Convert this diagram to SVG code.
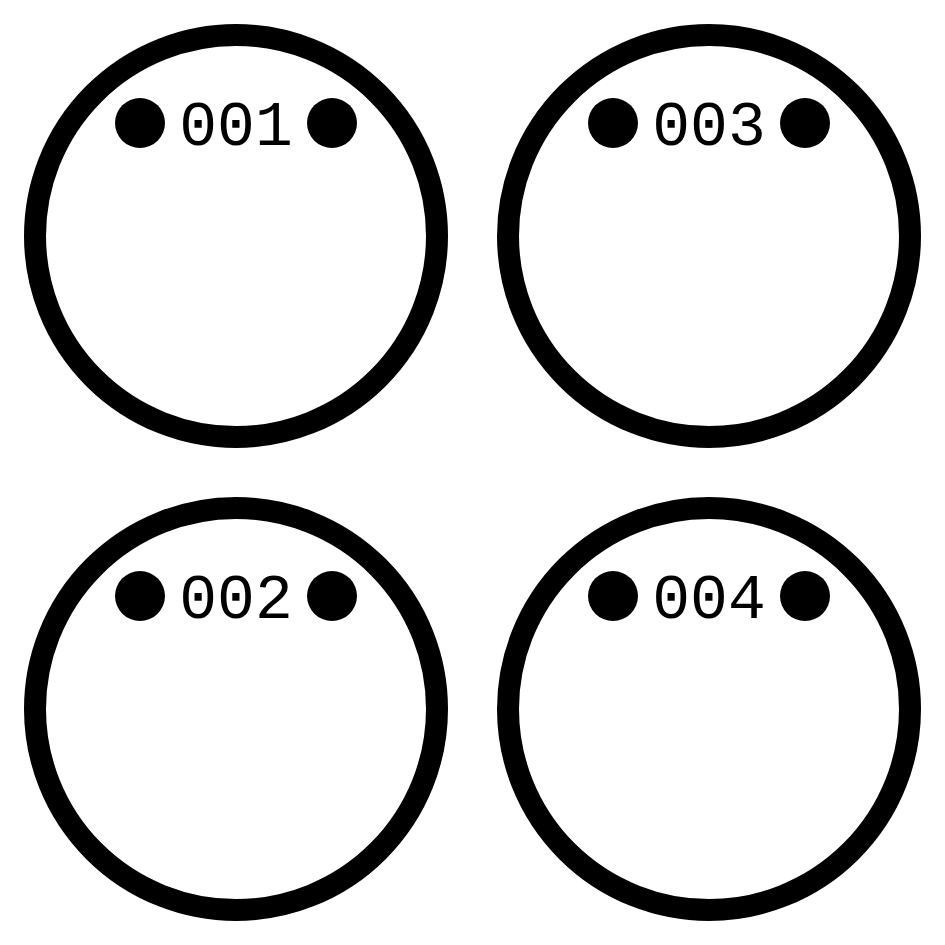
<svg xmlns="http://www.w3.org/2000/svg" width="945" height="945" viewBox="0 0 945 945">
<style>
.ring{fill:none;stroke:#000;stroke-width:22}
.dot{fill:#000}
.lbl{font-family:"Liberation Mono","DejaVu Sans Mono",monospace;font-size:63px;fill:#000;text-anchor:middle}
</style>
<rect width="945" height="945" fill="#fff"/>
<g id="node-001">
<circle class="ring" cx="236" cy="236" r="201"/>
<circle class="dot" cx="140" cy="123" r="25"/>
<circle class="dot" cx="332" cy="123" r="25"/>
<text class="lbl" x="236" y="145">001</text>
</g>
<g id="node-003">
<circle class="ring" cx="709" cy="236" r="201"/>
<circle class="dot" cx="613" cy="123" r="25"/>
<circle class="dot" cx="805" cy="123" r="25"/>
<text class="lbl" x="709" y="145">003</text>
</g>
<g id="node-002">
<circle class="ring" cx="236" cy="709" r="201"/>
<circle class="dot" cx="140" cy="596" r="25"/>
<circle class="dot" cx="332" cy="596" r="25"/>
<text class="lbl" x="236" y="618">002</text>
</g>
<g id="node-004">
<circle class="ring" cx="709" cy="709" r="201"/>
<circle class="dot" cx="613" cy="596" r="25"/>
<circle class="dot" cx="805" cy="596" r="25"/>
<text class="lbl" x="709" y="618">004</text>
</g>
<g id="connectors"/>
</svg>
